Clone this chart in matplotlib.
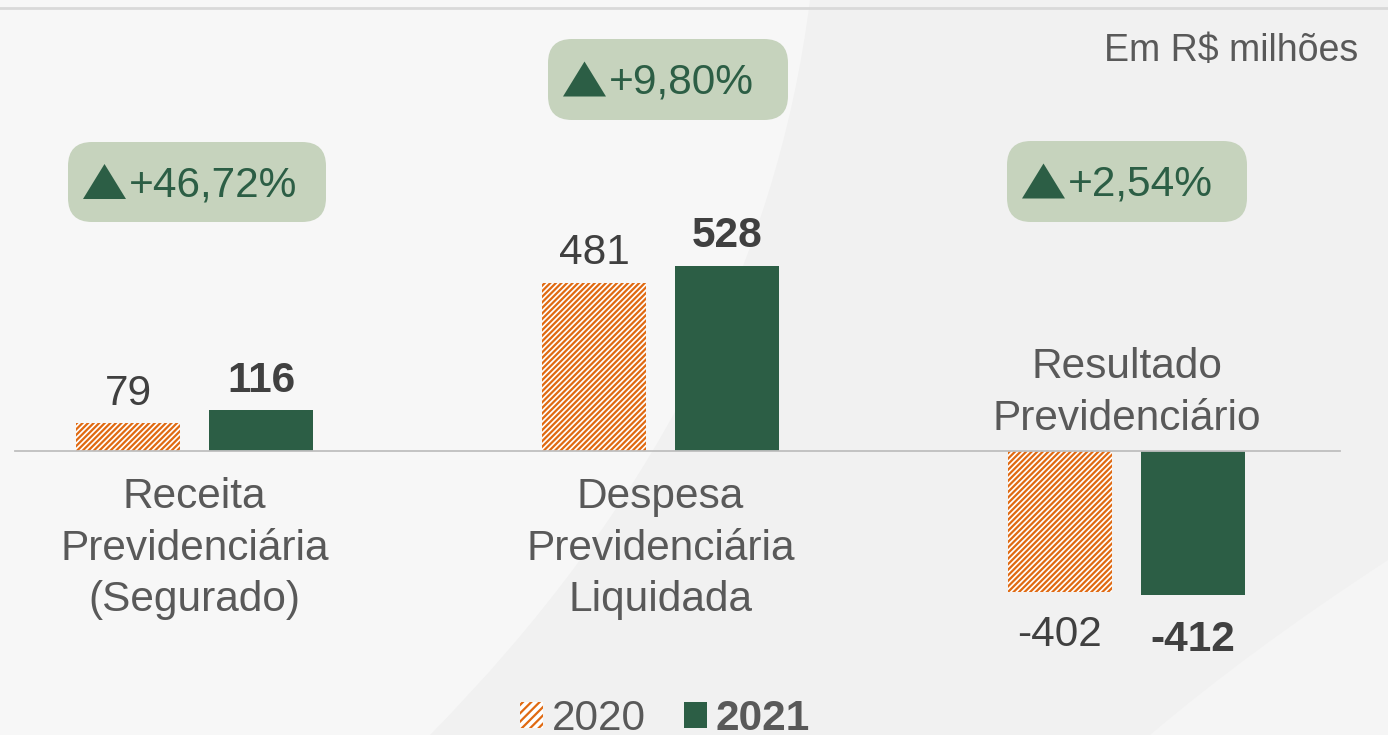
import matplotlib
matplotlib.use("Agg")
import matplotlib.pyplot as plt
from matplotlib.patches import FancyBboxPatch, Polygon, Patch
from matplotlib.path import Path
from matplotlib.patches import PathPatch

plt.rcParams['font.family'] = ['Liberation Sans', 'DejaVu Sans']
plt.rcParams['hatch.linewidth'] = 1.6

# ---- data ----
categories = ["Receita\nPrevidenciária\n(Segurado)",
              "Despesa\nPrevidenciária\nLiquidada",
              "Resultado\nPrevidenciário"]
values_2020 = [79, 481, -402]
values_2021 = [116, 528, -412]
series_labels = ["2020", "2021"]
variations = ["+46,72%", "+9,80%", "+2,54%"]
unit_label = "Em R$ milhões"

ORANGE = "#e06a12"
GREEN = "#2c5e45"
BADGE = "#c6d3bd"
TXT = "#404040"
TXT2 = "#595959"
HATCH = "//////"

W, H = 1388, 735
fig = plt.figure(figsize=(W / 100, H / 100), dpi=100)
fig.patch.set_facecolor("#f1f1f1")

# background / decoration axes in pixel coordinates
bg = fig.add_axes([0, 0, 1, 1], zorder=0)
bg.set_xlim(0, W)
bg.set_ylim(H, 0)
bg.axis("off")
# subtle lighter curved region
verts = [(0, 0), (810, 0), (760, 400), (430, 735), (0, 735), (0, 0)]
codes = [Path.MOVETO, Path.LINETO, Path.CURVE3, Path.LINETO, Path.LINETO, Path.CLOSEPOLY]
bg.add_patch(PathPatch(Path(verts, codes), facecolor="#f7f7f7", edgecolor="none"))
verts2 = [(W, 560), (1250, 650), (1150, 735), (W, 735), (W, 560)]
codes2 = [Path.MOVETO, Path.CURVE3, Path.CURVE3, Path.LINETO, Path.CLOSEPOLY]
bg.add_patch(PathPatch(Path(verts2, codes2), facecolor="#f5f5f5", edgecolor="none"))
# top line
bg.plot([0, W], [8, 8], color="#d9d9d9", lw=2)

# unit label
bg.text(1358, 51, unit_label, ha="right", va="center", fontsize=27, color=TXT2)

# badges
badge_boxes = [(68, 142, 258, 80), (548, 39, 240, 81), (1007, 141, 240, 81)]
for (x, y, w, h), txt in zip(badge_boxes, variations):
    r = 24
    bg.add_patch(FancyBboxPatch((x + r, y + r), w - 2 * r, h - 2 * r,
                                boxstyle=f"round,pad={r},rounding_size={r}",
                                facecolor=BADGE, edgecolor="none"))
    tx = x + 15
    cy = y + h / 2
    bg.add_patch(Polygon([(tx, cy + 17), (tx + 43, cy + 17), (tx + 21.5, cy - 18)],
                         closed=True, facecolor=GREEN, edgecolor="none"))
    bg.text(tx + 46, cy + 3, txt, ha="left", va="center", fontsize=30.5, color=GREEN)

# main axes
ax = fig.add_axes([0, 0, 1, 1], zorder=1)
ax.patch.set_alpha(0)
px_per_unit = 0.35
ax.set_xlim(-194.5 / 466, (W - 194.5) / 466)
ax.set_ylim(-(H - 451) / px_per_unit, 451 / px_per_unit)
ax.axis("off")

width = 104 / 466
off = 66.5 / 466
xs = list(range(len(categories)))
b1 = ax.bar([x - off for x in xs], values_2020, width, facecolor="white",
            edgecolor=ORANGE, hatch=HATCH, linewidth=0, zorder=2)
b2 = ax.bar([x + off for x in xs], values_2021, width, color=GREEN, zorder=2)

ax.plot([(15 - 194.5) / 466, (1340 - 194.5) / 466], [0, 0], color="#bfbfbf", lw=1.3, zorder=3)

FS = 30.5
for x, v in zip(xs, values_2020):
    ax.annotate(f"{v}", (x - off, v), xytext=(0, 7 if v > 0 else -17),
                textcoords="offset points", ha="center",
                va="bottom" if v > 0 else "top", fontsize=FS, color=TXT)
for x, v in zip(xs, values_2021):
    ax.annotate(f"{v}", (x + off, v), xytext=(0, 7 if v > 0 else -18),
                textcoords="offset points", ha="center",
                va="bottom" if v > 0 else "top", fontsize=FS, color=TXT,
                fontweight="bold")

for x, cat, v in zip(xs, categories, values_2021):
    if v >= 0:
        ax.annotate(cat, (x, 0), xytext=(0, -19), textcoords="offset points",
                    ha="center", va="top", fontsize=FS, color=TXT2, linespacing=1.36)
    else:
        ax.annotate(cat, (x, 0), xytext=(0, 9), textcoords="offset points",
                    ha="center", va="bottom", fontsize=FS, color=TXT2, linespacing=1.36)

handles = [Patch(facecolor="white", edgecolor=ORANGE, hatch="////", linewidth=0),
           Patch(facecolor=GREEN, edgecolor="none")]
leg = fig.legend(handles, series_labels, loc="center", bbox_to_anchor=(665 / W, 1 - 719 / H),
                 ncol=2, frameon=False, fontsize=FS, handlelength=0.55, handleheight=0.55,
                 handletextpad=0.2, columnspacing=0.9, labelcolor=TXT2)
leg.get_texts()[1].set_fontweight("bold")

fig.savefig("out.png", dpi=100, facecolor=fig.get_facecolor())
